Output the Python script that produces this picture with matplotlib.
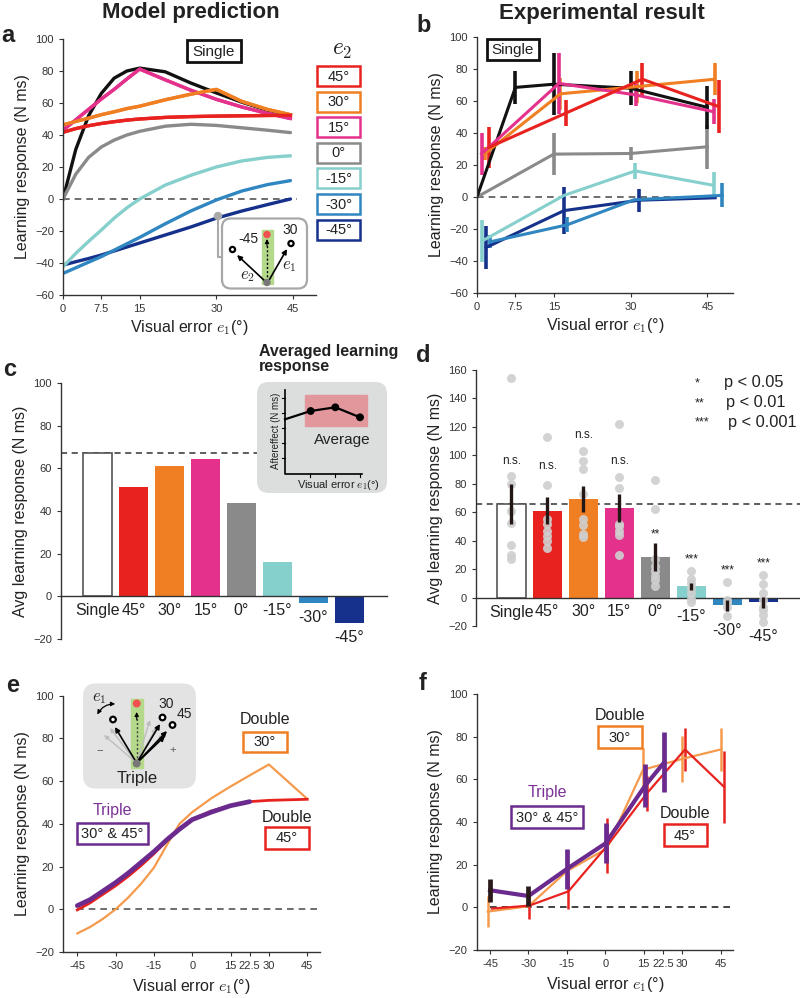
import numpy as np
import matplotlib
matplotlib.use('Agg')
import matplotlib.pyplot as plt
from matplotlib.patches import Rectangle, FancyBboxPatch, Circle, FancyArrowPatch

plt.rcParams['font.family'] = ['Liberation Sans', 'DejaVu Sans']
plt.rcParams['mathtext.fontset'] = 'cm'

W, H = 800, 998

# ---------------- data ----------------
conds = ['45°', '30°', '15°', '0°', '-15°', '-30°', '-45°']
bar_labels = ['Single'] + conds

# a: model prediction, learning response vs e1 for each e2
a_x = [0, 2.5, 5, 7.5, 10, 12.5, 15, 20, 25, 30, 35, 40, 44.5]
a_single = [0, 31, 52, 66, 75.5, 80, 81.8, 79.5, 72.5, 66.3, 60.5, 55.5, 52.5]
a_45 = [41.7, 44, 45.8, 47.2, 48.3, 49.3, 50, 51, 51.5, 51.8, 52, 52.2, 52.3]
a_30 = [46.3, 48.5, 50.5, 52.7, 54.5, 56.5, 58, 62, 65.5, 68.5, 61, 56, 52.7]
a_15 = [43, 49.5, 56, 62.5, 68.5, 75, 81.2, 74.5, 68, 62.3, 57.5, 53.5, 50.3]
a_0 = [0, 15.5, 26, 32.5, 36.8, 40, 42.3, 45.5, 46.7, 46, 44.5, 43, 41.5]
a_m15 = [-42.3, -34, -26.5, -19.4, -12, -5.5, 0, 8.7, 14.8, 20, 23.8, 26, 27]
a_m30 = [-46.5, -43, -39.5, -36, -32, -28, -24, -15.5, -7.5, -0.6, 5, 9, 11.5]
a_m45 = [-41.3, -39.2, -37.2, -35, -32.5, -30, -27.5, -22.5, -17.5, -12, -7.5, -3.5, 0]

# b: experimental result (mean, sem) with jittered e1 positions
b_single_x = [0, 7.5, 15, 30, 45]
b_single_y = [0, 68.5, 70.5, 68, 56]
b_single_e = [0, 10.5, 19.5, 10.5, 13.5]
b_45_x = [2.3, 17.4, 32.3, 47.2]
b_45_y = [31, 52.5, 73.6, 56.5]
b_45_e = [13, 8, 10, 16.5]
b_30_x = [1.5, 16.3, 31.3, 46.4]
b_30_y = [27, 64.5, 69, 73.6]
b_30_e = [4, 10, 10, 10]
b_15_x = [0.9, 16, 31, 46.2]
b_15_y = [27, 71, 63.8, 53.3]
b_15_e = [13.3, 19.2, 6.8, 7.8]
b_0_x = [0, 15, 30, 45]
b_0_y = [0, 26.8, 27.2, 31.4]
b_0_e = [0, 13.3, 4.2, 13.6]
b_m15_x = [1, 17, 30.9, 46.2]
b_m15_y = [-27.5, 1, 16.3, 7.3]
b_m15_e = [13.4, 0, 4.9, 8.5]
b_m30_x = [2.6, 17.6, 30.7, 47.9]
b_m30_y = [-28, -17.4, -1.7, 1]
b_m30_e = [4, 4.7, 0, 7.5]
b_m45_x = [1.8, 17, 31.7, 46.5]
b_m45_y = [-31.5, -8.5, -2, -0.5]
b_m45_e = [13.2, 14.5, 7.3, 0]

# c: model averaged learning response
c_vals = [67.4, 51.2, 61.1, 64.5, 43.6, 16.1, -3, -12.3]

# d: experimental averaged learning response
d_mean = [65.6, 61.2, 69.1, 62.8, 28.6, 7.9, -5.4, -3.3]
d_sem = [14, 9.5, 9, 10, 10, 2.5, 4, 4]
d_points = [
    [154.7, 85.3, 79.5, 61, 52.7, 36.8, 29.7, 27],
    [113, 79, 55.5, 52, 47, 43.5, 40, 35],
    [103, 95.8, 90.2, 73, 55, 51, 45, 42.5],
    [122, 85, 77, 52, 50, 47, 44, 30],
    [83, 62, 27, 22, 19, 15, 12, 8],
    [18.7, 13, 10, 7, 3, -1, -3],
    [11, -2, -4, -6.6, -13],
    [15.7, 9.4, 3.3, -2, -6.6, -9, -12.5, -17],
]
d_sig = ['n.s.', 'n.s.', 'n.s.', 'n.s.', '**', '***', '***', '***']
d_sig_y = [92, 88, 110, 91.5, 40, 22.5, 15, 20]

# e: model, double 30, double 45, triple
e_x = [-45, -40, -35, -30, -25, -20, -15, -10, -5, 0, 7.5, 15, 22.5, 30, 45]
e_d30 = [-11.3, -8.3, -4.5, 0, 5.6, 12, 19.5, 30, 40, 45.5, 52, 57.5, 62.7, 67.8, 51.7]
e_d45 = [-0.3, 3, 7, 11, 15.5, 20.5, 26, 32, 37.5, 42, 46, 48.5, 50.4, 51, 51.5]
e_tri_x = [-45, -40, -35, -30, -25, -20, -15, -10, -5, 0, 7.5, 15, 22.5]
e_tri = [1.7, 4.5, 8.5, 12.5, 17, 22, 27, 32.5, 37.5, 42, 45.5, 48.5, 50.4]

# f: experiment, double 30, double 45, triple
f_d30_x = [-45.9, -30, -15, 0.5, 14.7, 29.8, 45]
f_d30_y = [-2, 0.5, 17, 27.5, 64.5, 69.5, 74]
f_d30_e = [7.2, 0, 4, 4, 10, 10.6, 10.2]
f_d45_x = [-44.3, -29.7, -14.4, 0.8, 16.1, 31.1, 46.3]
f_d45_y = [-0.6, 0.8, 7.5, 29, 53.3, 74, 56.5]
f_d45_e = [0, 6.3, 8.2, 13, 8.2, 10.2, 16.8]
f_tri_x = [-45, -30, -15, 0.1, 15.5, 23]
f_tri_y = [8, 5.3, 18, 30, 57, 68]
f_tri_e = [5.3, 4.8, 9.5, 9.3, 10, 14]

# ---------------- style ----------------
BLACK = '#111111'
RED = '#e8231f'
ORANGE = '#f07f23'
PINK = '#e3318c'
GRAY = '#8a8a8a'
CYAN = '#85cfcc'
MBLUE = '#2f86c0'
NAVY = '#15318c'
PURPLE = '#6b2a8e'
cond_colors = [RED, ORANGE, PINK, GRAY, CYAN, MBLUE, NAVY]
bar_colors = ['white'] + cond_colors
TXT = '#222222'

fig = plt.figure(figsize=(W / 100, H / 100), dpi=100)


def px_axes(x0, x1, y0, y1):
    return fig.add_axes([x0 / W, 1 - y1 / H, (x1 - x0) / W, (y1 - y0) / H])


def style(ax):
    for s in ['top', 'right']:
        ax.spines[s].set_visible(False)
    for s in ['left', 'bottom']:
        ax.spines[s].set_color('#333333')
        ax.spines[s].set_linewidth(1.0)
    ax.tick_params(direction='out', length=3, width=0.8, labelsize=8,
                   colors='#333333', labelcolor='#333333')
    ax.patch.set_alpha(0)


xlab = r'Visual error $e_1$(°)'

# ---------------- panel a ----------------
axA = px_axes(63, 316, 39, 295)
style(axA)
axA.hlines(0, 0, 45.7, colors='#555555', linestyles=(0, (4, 3)), lw=1.2)
a_series = [a_45, a_30, a_15, a_0, a_m15, a_m30, a_m45]
for ys, c in zip(a_series[::-1], cond_colors[::-1]):
    axA.plot(a_x, ys, color=c, lw=2.4, solid_capstyle='round')
axA.plot(a_x, a_single, color=BLACK, lw=2.4, zorder=1)
axA.plot(a_x, a_15, color=PINK, lw=2.4)
axA.plot(a_x, a_30, color=ORANGE, lw=2.4)
axA.plot(a_x, a_45, color=RED, lw=2.4)
axA.set_xlim(0, 49.5)
axA.set_ylim(-60, 100)
axA.set_xticks([0, 7.5, 15, 30, 45])
axA.set_xticklabels(['0', '7.5', '15', '30', '45'])
axA.set_yticks(range(-60, 101, 20))
axA.set_ylabel('Learning response (N ms)', fontsize=11.5, color=TXT, labelpad=4)
axA.set_xlabel(xlab, fontsize=11.5, color=TXT, labelpad=3)

# ---------------- panel b ----------------
axB = px_axes(477, 733, 37, 293)
style(axB)
axB.hlines(0, 0, 47, colors='#555555', linestyles=(0, (4, 3)), lw=1.2)
b_series = [
    (b_m45_x, b_m45_y, b_m45_e, NAVY),
    (b_m30_x, b_m30_y, b_m30_e, MBLUE),
    (b_m15_x, b_m15_y, b_m15_e, CYAN),
    (b_0_x, b_0_y, b_0_e, GRAY),
    (b_single_x, b_single_y, b_single_e, BLACK),
    (b_30_x, b_30_y, b_30_e, ORANGE),
    (b_15_x, b_15_y, b_15_e, PINK),
    (b_45_x, b_45_y, b_45_e, RED),
]
for xs, ys, es, c in b_series:
    axB.errorbar(xs, ys, yerr=es, color=c, lw=2.2, elinewidth=2.6, capsize=0)
axB.set_xlim(0, 50)
axB.set_ylim(-60, 100)
axB.set_xticks([0, 7.5, 15, 30, 45])
axB.set_xticklabels(['0', '7.5', '15', '30', '45'])
axB.set_yticks(range(-60, 101, 20))
axB.set_ylabel('Learning response (N ms)', fontsize=11.5, color=TXT, labelpad=4)
axB.set_xlabel(xlab, fontsize=11.5, color=TXT, labelpad=3)


def bar_panel(ax, vals, lows):
    pos = np.arange(len(vals))
    ax.bar(pos, vals, width=0.8, color=bar_colors, zorder=2)
    ax.bar(pos[0], vals[0], width=0.8, color='white', edgecolor='#555555',
           lw=1.2, zorder=2)
    ax.spines['bottom'].set_position(('data', 0))
    ax.set_xticks([])
    for p, low, lab in zip(pos, lows, bar_labels):
        ax.annotate(lab, xy=(p, low), xytext=(0, -5), textcoords='offset points',
                    ha='center', va='top', fontsize=11.5, color=TXT)
    ax.set_ylabel('Avg learning response (N ms)', fontsize=11.5, color=TXT,
                  labelpad=4)


# ---------------- panel c ----------------
axC = px_axes(61, 387, 383, 639)
style(axC)
axC.axhline(c_vals[0], color='#333333', ls=(0, (4, 3)), lw=1.1, zorder=1)
bar_panel(axC, c_vals, [min(0, v) for v in c_vals])
axC.set_xlim(-1.01, 8.04)
axC.set_ylim(-20, 100)
axC.set_yticks(range(-20, 101, 20))

# ---------------- panel d ----------------
axD = px_axes(476, 800, 370, 626)
style(axD)
axD.axhline(d_mean[0], color='#333333', ls=(0, (4, 3)), lw=1.1, zorder=1)
d_lows = [min(0, min(pts), m - s) for pts, m, s in zip(d_points, d_mean, d_sem)]
bar_panel(axD, d_mean, d_lows)
for i, pts in enumerate(d_points):
    axD.scatter([i] * len(pts), pts, s=42, color='#cfcfcf', lw=0, zorder=3,
                alpha=0.9)
axD.errorbar(np.arange(8), d_mean, yerr=d_sem, fmt='none', ecolor='#231815',
             elinewidth=2.4, capsize=0, zorder=4)
for i, (s, y) in enumerate(zip(d_sig, d_sig_y)):
    axD.text(i, y, s, ha='center', va='bottom', fontsize=8.5, color=TXT)
axD.set_xlim(-0.98, 8.02)
axD.set_ylim(-20, 160)
axD.set_yticks(range(-20, 161, 20))

# ---------------- panel e ----------------
axE = px_axes(63, 320, 695.7, 952)
style(axE)
axE.hlines(0, -45, 50, colors='#555555', linestyles=(0, (4, 3)), lw=1.2)
axE.plot(e_x, e_d30, color='#f59a4c', lw=1.6)
axE.plot(e_x, e_d45, color=RED, lw=2.0)
axE.plot(e_tri_x, e_tri, color=PURPLE, lw=3.4, solid_capstyle='round')
ex_ticks = [-45, -30, -15, 0, 15, 22.5, 30, 45]
ex_labels = ['-45', '-30', '-15', '0', '15', '22.5', '30', '45']
axE.set_xlim(-50.6, 50)
axE.set_ylim(-20, 100)
axE.set_xticks(ex_ticks)
axE.set_xticklabels(ex_labels)
axE.set_yticks(range(-20, 101, 20))
axE.set_ylabel('Learning response (N ms)', fontsize=11.5, color=TXT, labelpad=4)
axE.set_xlabel(xlab, fontsize=11.5, color=TXT, labelpad=4)

# ---------------- panel f ----------------
axF = px_axes(476.7, 732.7, 694, 950)
style(axF)
axF.hlines(0, -45, 49.5, colors='#222222', linestyles=(0, (4, 3)), lw=1.2)
axF.errorbar(f_d30_x, f_d30_y, yerr=f_d30_e, color='#f59a4c', lw=1.6,
             elinewidth=1.8, capsize=0)
axF.errorbar(f_d45_x, f_d45_y, yerr=f_d45_e, color=RED, lw=1.6,
             elinewidth=1.8, capsize=0)
tri_err_colors = ['#2a1a1a', '#2a1a1a', PURPLE, PURPLE, PURPLE, PURPLE]
axF.plot(f_tri_x, f_tri_y, color=PURPLE, lw=3.0, zorder=3)
for x, y, e, c in zip(f_tri_x, f_tri_y, f_tri_e, tri_err_colors):
    axF.errorbar([x], [y], yerr=[e], fmt='none', ecolor=c, elinewidth=3.4,
                 capsize=0, zorder=4)
axF.set_xlim(-50.2, 49.7)
axF.set_ylim(-20, 100)
axF.set_xticks(ex_ticks)
axF.set_xticklabels(ex_labels)
axF.set_yticks(range(-20, 101, 20))
axF.set_ylabel('Learning response (N ms)', fontsize=11.5, color=TXT, labelpad=4)
axF.set_xlabel(xlab, fontsize=11.5, color=TXT, labelpad=4)

# ---------------- overlay (annotations in pixel coords) ----------------
ov = fig.add_axes([0, 0, 1, 1])
ov.set_xlim(0, W)
ov.set_ylim(H, 0)
ov.axis('off')


def tbox(x0, x1, y0, y1, text, ec, fs=10, lw=1.8):
    ov.add_patch(Rectangle((x0, y0), x1 - x0, y1 - y0, fc='white', ec=ec, lw=lw))
    ov.text((x0 + x1) / 2, (y0 + y1) / 2 + 0.5, text, ha='center', va='center',
            fontsize=fs, color=TXT)


def arrow(x0, y0, x1, y1, color='k', lw=1.2, ms=7, ls='-'):
    ov.add_patch(FancyArrowPatch((x0, y0), (x1, y1), arrowstyle='-|>',
                                 mutation_scale=ms, color=color, lw=lw,
                                 shrinkA=0, shrinkB=0, linestyle=ls))


# titles and panel letters
ov.text(191, 12, 'Model prediction', ha='center', va='center', fontsize=16,
        fontweight='bold', color=TXT)
ov.text(602, 13, 'Experimental result', ha='center', va='center',
        fontsize=16, fontweight='bold', color=TXT)
for lab, x, y in [('a', 1, 35), ('b', 416, 25), ('c', 3, 370), ('d', 416, 356),
                  ('e', 6, 685), ('f', 419, 683)]:
    ov.text(x, y, lab, ha='left', va='center', fontsize=17, fontweight='bold',
            color=TXT)

# panel a: single box and e2 legend
tbox(187, 241, 40, 62, 'Single', BLACK, fs=11, lw=2)
ov.text(342, 50, r'$e_2$', ha='center', va='center', fontsize=17, color=TXT)
for i, (lab, c) in enumerate(zip(conds, cond_colors)):
    yc = 76 + 25.6 * i
    tbox(317, 360, yc - 10, yc + 10, lab, c, fs=10.5, lw=1.8)

# panel a inset
ov.add_patch(Circle((218, 216), 3.5, color='#aaaaaa', zorder=5))
ov.plot([218, 218, 222], [216, 257, 257], color='#aaaaaa', lw=1.5)
ov.add_patch(FancyBboxPatch((222, 218.5), 85, 70,
                            boxstyle='round,pad=0,rounding_size=9',
                            fc='white', ec='#a8a8a8', lw=1.6))
ov.add_patch(Rectangle((262, 230), 11, 54, color='#b5d98a'))
ov.add_patch(Circle((267, 234.5), 3, color='#f05050'))
ov.plot([267, 267], [281, 243], color='k', lw=1, ls=(0, (1.5, 1.5)))
arrow(267, 246, 267, 239, lw=0.8, ms=6)
ov.add_patch(Circle((232.5, 249.5), 2.6, fc='white', ec='k', lw=1.6))
ov.add_patch(Circle((291, 243.5), 2.6, fc='white', ec='k', lw=1.6))
arrow(266, 282, 237, 255)
arrow(268, 282, 287, 249)
ov.add_patch(Circle((267, 282.5), 3, color='#777777', zorder=6))
ov.text(248, 239, '-45', ha='center', va='center', fontsize=10, color=TXT)
ov.text(290, 230, '30', ha='center', va='center', fontsize=10, color=TXT)
ov.text(247, 276, r'$e_2$', ha='center', va='center', fontsize=12, color=TXT)
ov.text(289, 267, r'$e_1$', ha='center', va='center', fontsize=12, color=TXT)

# panel b single box
tbox(487, 539, 39, 60, 'Single', BLACK, fs=11, lw=2)

# panel c inset
ov.text(259, 359, 'Averaged learning\nresponse', ha='left', va='center',
        fontsize=11.5, fontweight='bold', color=TXT, linespacing=1.0)
ov.add_patch(FancyBboxPatch((257, 382), 130, 111,
                            boxstyle='round,pad=0,rounding_size=12',
                            fc='#dcdddd', ec='none'))
ov.add_patch(Rectangle((305, 395), 62, 31, color='#e2979c'))
ov.plot([285, 285, 362], [390, 473.5, 473.5], color='k', lw=1.2)
for yt in [398, 413, 428, 443, 458]:
    ov.plot([282, 285], [yt, yt], color='k', lw=0.8)
for xt in [310, 335, 360]:
    ov.plot([xt, xt], [473.5, 476.5], color='k', lw=0.8)
ov.plot([285, 310.7, 335.3, 360], [419.3, 411, 407.3, 417.3], color='k', lw=1.6)
for px_, py_ in [(310.7, 411), (335.3, 407.3), (360, 417.3)]:
    ov.add_patch(Circle((px_, py_), 3.2, color='k'))
ov.text(342.5, 440, 'Average', ha='center', va='center', fontsize=11, color=TXT)
ov.text(276, 431, 'Aftereffect (N ms)', ha='center', va='center', fontsize=7,
        rotation=90, color=TXT)
ov.text(338, 485, r'Visual error $e_1$(°)', ha='center', va='center',
        fontsize=8, color=TXT)

# panel d significance legend
for stars, txt, x, y in [('*', 'p < 0.05', 724, 383), ('**', 'p < 0.01', 726, 403),
                         ('***', 'p < 0.001', 728, 422)]:
    ov.text(695, y, stars, ha='left', va='center', fontsize=9, color=TXT)
    ov.text(x, y, txt, ha='left', va='center', fontsize=11.8, color=TXT)

# panel e inset
ov.add_patch(FancyBboxPatch((83, 683.5), 113, 105,
                            boxstyle='round,pad=0,rounding_size=13',
                            fc='#e3e3e3', ec='none'))
ov.add_patch(Rectangle((130.5, 698.5), 12, 69, color='#b5d98a'))
ov.add_patch(Circle((136.7, 703.5), 3.3, color='#f05050'))
for tx, ty in [(104, 735), (110, 728), (150, 720), (156, 728), (164, 734)]:
    arrow(136.7, 763, tx, ty, color='#bdbdbd', lw=1.0, ms=6)
ov.plot([136.7, 136.7], [762, 716], color='#444444', lw=1, ls=(0, (1.5, 1.5)))
arrow(136.7, 720, 136.7, 712, lw=0.8, ms=6)
arrow(136.7, 763, 115, 727)
arrow(136.7, 763, 160, 724)
arrow(136.7, 763, 167, 731)
arrow(136.7, 763, 165, 736)
ov.add_patch(Circle((113, 719.5), 2.8, fc='white', ec='k', lw=1.6))
ov.add_patch(Circle((162.5, 717.5), 2.8, fc='white', ec='k', lw=1.6))
ov.add_patch(Circle((172.5, 725), 2.8, fc='white', ec='k', lw=1.6))
ov.add_patch(Circle((136.7, 763.5), 3.3, color='#777777', zorder=6))
ov.add_patch(FancyArrowPatch((96, 717), (118, 704), arrowstyle='<|-|>',
                             mutation_scale=6, color='k', lw=0.9,
                             connectionstyle='arc3,rad=-0.35'))
ov.text(99, 698, r'$e_1$', ha='center', va='center', fontsize=12, color=TXT)
ov.text(166, 704, '30', ha='center', va='center', fontsize=10, color=TXT)
ov.text(184, 713.5, '45', ha='center', va='center', fontsize=10, color=TXT)
ov.text(100, 750, '−', ha='center', va='center', fontsize=8, color='#555555')
ov.text(173, 750, '+', ha='center', va='center', fontsize=8, color='#555555')
ov.text(137, 778, 'Triple', ha='center', va='center', fontsize=12, color=TXT)

# panel e labels
ov.text(265, 720, 'Double', ha='center', va='center', fontsize=11.5, color=TXT)
tbox(243, 287, 732, 752, '30°', ORANGE, fs=10.5)
ov.text(112, 810, 'Triple', ha='center', va='center', fontsize=11.5,
        color='#7b3296')
tbox(77, 148, 822.5, 844, '30° & 45°', PURPLE, fs=10.5)
ov.text(287, 817, 'Double', ha='center', va='center', fontsize=11.5, color=TXT)
tbox(265, 309, 827, 849, '45°', RED, fs=10.5)

# panel f labels
ov.text(620, 715, 'Double', ha='center', va='center', fontsize=11.5, color=TXT)
tbox(598, 642, 726, 748, '30°', ORANGE, fs=10.5)
ov.text(547, 793, 'Triple', ha='center', va='center', fontsize=11.5,
        color='#7b3296')
tbox(511, 583, 806, 828, '30° & 45°', PURPLE, fs=10.5)
ov.text(685, 813, 'Double', ha='center', va='center', fontsize=11.5, color=TXT)
tbox(663.5, 706.5, 824, 846, '45°', RED, fs=10.5)

fig.savefig('out.png', dpi=100)
